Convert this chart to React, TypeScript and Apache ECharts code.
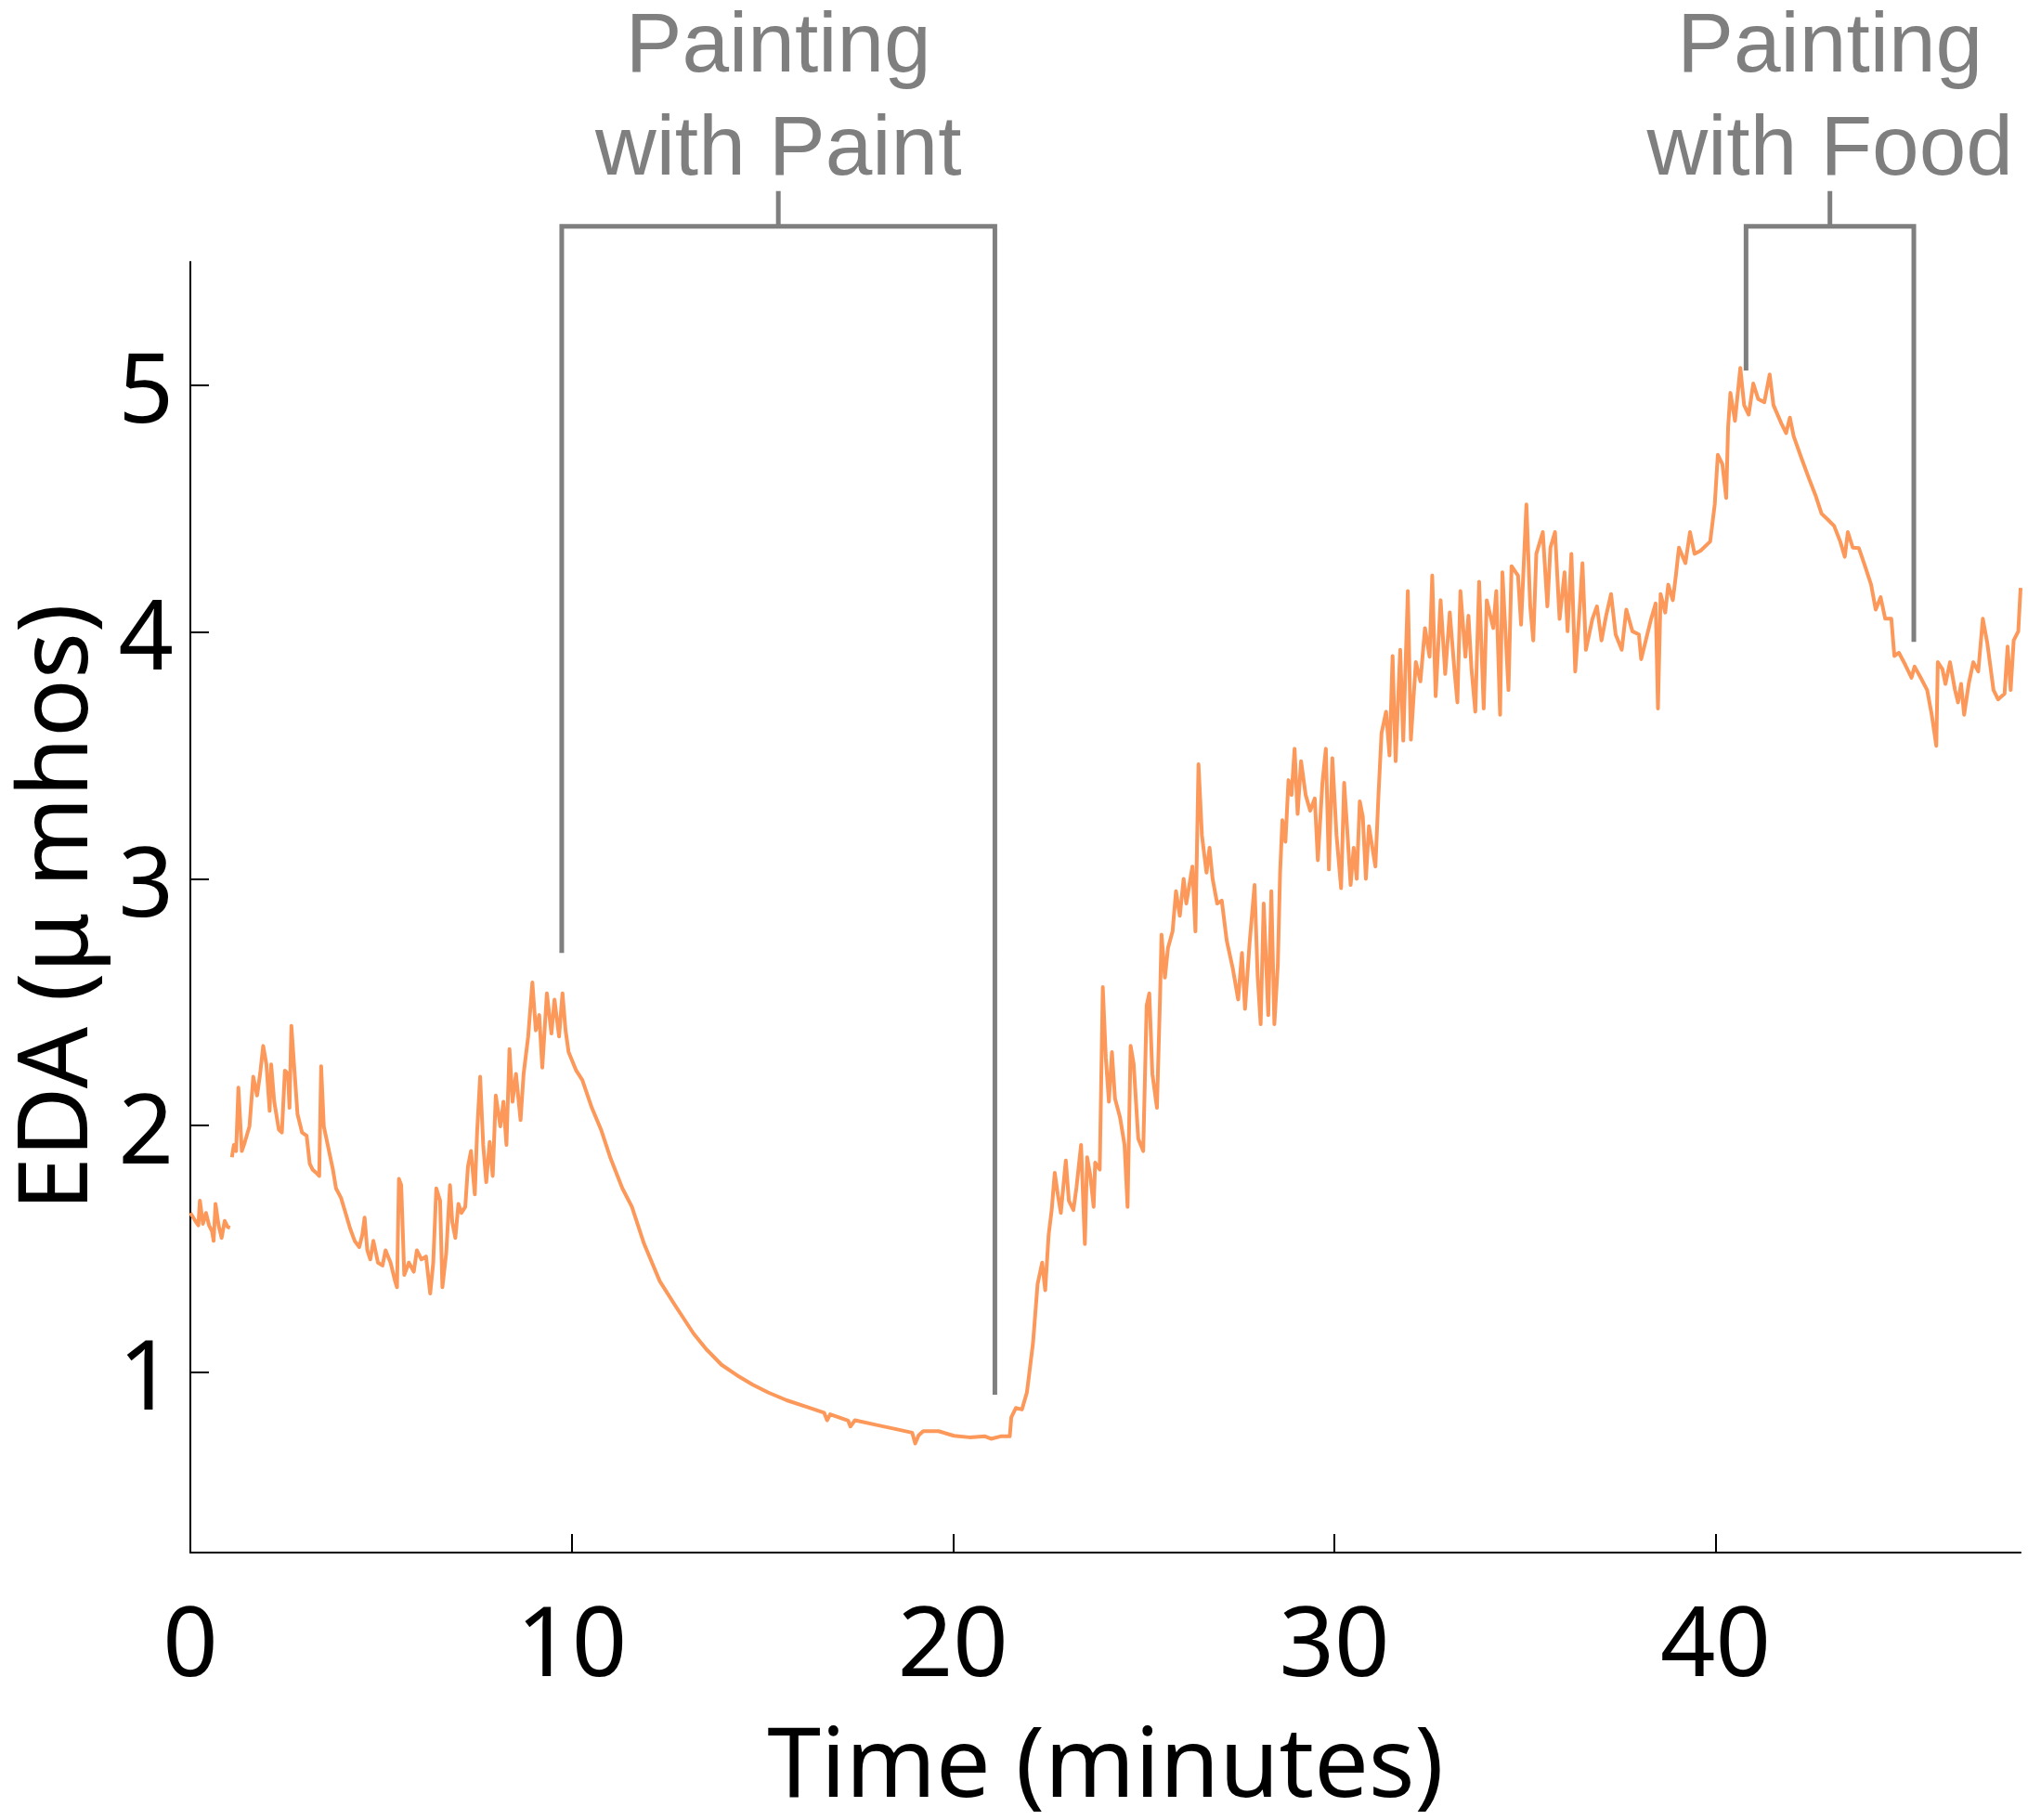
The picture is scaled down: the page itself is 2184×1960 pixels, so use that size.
import React, { useEffect, useRef } from "react";
import * as echarts from "echarts";

// ---- Data ----
// Time in minutes
const timeMin: number[] = [
  0.0, 0.13, 0.21, 0.25, 0.33, 0.41, 0.49, 0.57, 0.61, 0.66, 0.74, 0.82, 0.9, 0.98, 1.04,
  1.06,
  1.09, 1.14, 1.2, 1.26, 1.35, 1.43, 1.55, 1.65, 1.75, 1.83, 1.91, 1.995, 2.08, 2.12, 2.2, 2.32, 2.4,
  2.48, 2.56, 2.6, 2.65, 2.73, 2.81, 2.93, 3.05, 3.13, 3.21, 3.3, 3.38, 3.43, 3.5, 3.62, 3.74, 3.82,
  3.95, 4.07, 4.19, 4.31, 4.43, 4.51, 4.57, 4.64, 4.72, 4.8, 4.92, 5.04, 5.12, 5.25, 5.37, 5.42,
  5.47, 5.53, 5.61, 5.73, 5.86, 5.94, 6.06, 6.18, 6.29, 6.37, 6.45, 6.55, 6.61, 6.71, 6.81, 6.87,
  6.95, 7.03, 7.11, 7.21, 7.28, 7.36, 7.46, 7.52, 7.6, 7.68, 7.76, 7.85, 7.93, 8.01, 8.13, 8.21,
  8.29, 8.37, 8.45, 8.54, 8.66, 8.74, 8.86, 8.97, 9.06, 9.15, 9.23, 9.35, 9.47, 9.55, 9.67, 9.76,
  9.84, 9.92, 10.12, 10.28, 10.53, 10.77, 11.01, 11.33, 11.58, 11.9, 12.31, 12.72, 13.2, 13.53,
  13.93, 14.34, 14.75, 15.15, 15.64, 16.13, 16.62, 16.7, 16.78, 17.25, 17.31, 17.43, 18.0, 18.57,
  18.93, 19.01, 19.1, 19.22, 19.62, 20.03, 20.43, 20.84, 21.0, 21.25, 21.49, 21.53, 21.65, 21.81,
  21.94, 22.1, 22.22, 22.34, 22.42, 22.51, 22.59, 22.67, 22.75, 22.83, 22.96, 23.04, 23.16, 23.24,
  23.36, 23.46, 23.52, 23.6, 23.69, 23.73, 23.85, 23.93, 24.01, 24.09, 24.17, 24.25, 24.38, 24.5,
  24.58, 24.66, 24.74, 24.86, 24.99, 25.08, 25.15, 25.23, 25.35, 25.43, 25.47, 25.56, 25.64, 25.76,
  25.85, 25.95, 26.05, 26.12, 26.2, 26.28, 26.36, 26.44, 26.53, 26.65, 26.73, 26.81, 26.93, 27.05,
  27.18, 27.34, 27.48, 27.58, 27.66, 27.78, 27.91, 27.99, 28.07, 28.15, 28.27, 28.35, 28.43, 28.52,
  28.58, 28.64, 28.72, 28.8, 28.88, 28.96, 29.04, 29.13, 29.25, 29.37, 29.49, 29.57, 29.69, 29.78,
  29.86, 29.95, 30.06, 30.18, 30.26, 30.34, 30.43, 30.51, 30.59, 30.67, 30.75, 30.83, 30.91, 31.08,
  31.16, 31.24, 31.36, 31.45, 31.53, 31.61, 31.73, 31.81, 31.93, 32.01, 32.14, 32.26, 32.38, 32.5,
  32.57, 32.66, 32.79, 32.91, 33.03, 33.15, 33.23, 33.31, 33.44, 33.52, 33.6, 33.7, 33.8, 33.92,
  34.0, 34.17, 34.25, 34.35, 34.41, 34.57, 34.65, 34.82, 34.9, 35.04, 35.14, 35.22, 35.3, 35.47,
  35.59, 35.67, 35.79, 35.91, 36.04, 36.12, 36.22, 36.32, 36.44, 36.51, 36.6, 36.77, 36.89, 37.01,
  37.13, 37.26, 37.38, 37.54, 37.66, 37.82, 37.99, 38.05, 38.19, 38.31, 38.43, 38.49, 38.56, 38.68,
  38.76, 38.88, 38.96, 39.04, 39.21, 39.33, 39.45, 39.61, 39.86, 39.98, 40.06, 40.18, 40.28, 40.33,
  40.39, 40.51, 40.65, 40.75, 40.87, 40.99, 41.12, 41.28, 41.42, 41.52, 41.73, 41.85, 41.95, 42.05,
  42.25, 42.46, 42.62, 42.78, 42.95, 43.11, 43.27, 43.39, 43.47, 43.6, 43.76, 43.92, 44.08, 44.2,
  44.33, 44.45, 44.61, 44.69, 44.81, 44.98, 45.14, 45.22, 45.38, 45.55, 45.67, 45.79, 45.83, 45.95,
  46.03, 46.15, 46.28, 46.36, 46.44, 46.52, 46.64, 46.76, 46.89, 47.01, 47.13, 47.29, 47.41, 47.58,
  47.66, 47.74, 47.82, 47.94, 48.0,
];

// EDA in micro-mhos (null = recording gap)
const edaValues: (number | null)[] = [
  1.646, 1.614, 1.596, 1.696, 1.602, 1.646, 1.596, 1.571, 1.533, 1.683, 1.596, 1.545, 1.614, 1.589, 1.586,
  null,
  1.872, 1.922, 1.897, 2.154, 1.897, 1.934, 1.997, 2.198, 2.122, 2.21, 2.323, 2.248, 2.06, 2.248, 2.097, 1.984, 1.972,
  2.223, 2.21, 2.072, 2.404, 2.223, 2.047, 1.972, 1.959, 1.846, 1.821, 1.809, 1.796, 2.241, 1.997, 1.909, 1.821, 1.746,
  1.708, 1.646, 1.583, 1.533, 1.508, 1.558, 1.627, 1.495, 1.458, 1.533, 1.445, 1.433, 1.495, 1.445, 1.37, 1.345,
  1.784, 1.759, 1.395, 1.445, 1.408, 1.495, 1.458, 1.47, 1.32, 1.445, 1.746, 1.696, 1.345, 1.483, 1.759, 1.608,
  1.545, 1.683, 1.646, 1.671, 1.834, 1.897, 1.721, 1.972, 2.198, 1.922, 1.771, 1.934, 1.796, 2.122, 1.997, 2.097,
  1.922, 2.31, 2.097, 2.21, 2.022, 2.21, 2.361, 2.58, 2.386, 2.448, 2.235, 2.536, 2.373, 2.511, 2.361, 2.536,
  2.386, 2.298, 2.223, 2.185, 2.072, 1.984, 1.872, 1.746, 1.671, 1.521, 1.37, 1.27, 1.157, 1.094,
  1.031, 0.988, 0.95, 0.919, 0.887, 0.862, 0.837, 0.806, 0.83, 0.805, 0.781, 0.806, 0.787, 0.768,
  0.756, 0.712, 0.745, 0.762, 0.762, 0.743, 0.737, 0.741, 0.731, 0.741, 0.741, 0.818, 0.856, 0.85,
  0.919, 1.119, 1.358, 1.445, 1.333, 1.558, 1.658, 1.809, 1.721, 1.646, 1.859, 1.696, 1.658, 1.75,
  1.922, 1.52, 1.872, 1.8, 1.671, 1.85, 1.822, 2.561, 2.273, 2.097, 2.298, 2.11, 2.035, 1.922,
  1.671, 2.323, 2.25, 1.947, 1.897, 2.486, 2.536, 2.21, 2.072, 2.51, 2.774, 2.6, 2.72, 2.787,
  2.95, 2.85, 3.0, 2.9, 2.975, 3.05, 2.787, 3.464, 3.176, 3.025, 3.126, 3.0, 2.9, 2.912,
  2.75, 2.636, 2.511, 2.7, 2.473, 2.74, 2.975, 2.61, 2.411, 2.9, 2.448, 2.95, 2.411, 2.65,
  3.025, 3.238, 3.15, 3.4, 3.34, 3.527, 3.263, 3.477, 3.34, 3.276, 3.326, 3.075, 3.389, 3.527,
  3.038, 3.489, 3.176, 2.962, 3.389, 3.2, 2.975, 3.126, 3.0, 3.314, 3.251, 3.0, 3.213, 3.05,
  3.339, 3.59, 3.677, 3.5, 3.903, 3.477, 3.928, 3.56, 4.166, 3.564, 3.878, 3.8, 4.016, 3.9,
  4.229, 3.74, 4.129, 3.83, 4.08, 3.85, 3.715, 4.166, 3.9, 4.066, 3.85, 3.677, 4.204, 3.69,
  4.129, 4.016, 4.166, 3.665, 4.242, 3.765, 4.267, 4.229, 4.03, 4.517, 4.104, 3.966, 4.317, 4.405,
  4.104, 4.342, 4.405, 4.053, 4.242, 4.003, 4.317, 3.84, 4.104, 4.279, 3.928, 4.053, 4.104, 3.966,
  4.066, 4.154, 3.99, 3.928, 4.091, 4.003, 3.99, 3.89, 3.978, 4.053, 4.116, 3.69, 4.154, 4.079,
  4.192, 4.129, 4.229, 4.342, 4.279, 4.405, 4.317, 4.33, 4.367, 4.518, 4.718, 4.68, 4.543, 4.831,
  4.969, 4.856, 5.07, 4.919, 4.881, 5.007, 4.944, 4.931, 5.044, 4.919, 4.844, 4.806, 4.869, 4.793,
  4.706, 4.618, 4.555, 4.48, 4.455, 4.43, 4.367, 4.305, 4.405, 4.342, 4.34, 4.267, 4.192, 4.091,
  4.141, 4.054, 4.054, 3.903, 3.916, 3.866, 3.815, 3.86, 3.815, 3.765, 3.665, 3.539, 3.878, 3.85,
  3.79, 3.878, 3.765, 3.715, 3.79, 3.665, 3.79, 3.878, 3.84, 4.054, 3.953, 3.765, 3.727, 3.75,
  3.941, 3.765, 3.966, 4.003, 4.179,
];

// Axis ticks
const xTicks = [0, 10, 20, 30, 40];
const yTicks = [1, 2, 3, 4, 5];

// Annotation brackets (data coordinates)
const bracketLabels = ["Painting\nwith Paint", "Painting\nwith Food"];
const bracketLeftX = [9.74, 40.8];
const bracketRightX = [21.1, 45.2];
const bracketLeftBottom = [2.7, 5.06];
const bracketRightBottom = [0.91, 3.96];
const bracketBarY = 5.644;
const bracketStubTopY = 5.787;
const bracketLabelY = 6.18;

const FONT = "'Noto Sans', 'DejaVu Sans', sans-serif";
const ANNOT_FONT = "'Liberation Sans', Arial, sans-serif";
const ORANGE = "#FB985A";
const GREY = "#7F7F7F";

export default function App() {
  const ref = useRef<HTMLDivElement>(null);

  useEffect(() => {
    if (!ref.current) return;
    const chart = echarts.init(ref.current, undefined, { renderer: "svg" });

    const trace = timeMin.map((t, i) => [t, edaValues[i] === null ? "-" : edaValues[i]]);

    const bracketSeries = bracketLabels.map((_, i) => {
      const mid = (bracketLeftX[i] + bracketRightX[i]) / 2;
      return {
        type: "line",
        clip: false,
        silent: true,
        symbol: "none",
        connectNulls: false,
        lineStyle: { color: GREY, width: 5, join: "miter", cap: "butt" },
        data: [
          [bracketLeftX[i], bracketLeftBottom[i]],
          [bracketLeftX[i], bracketBarY],
          [bracketRightX[i], bracketBarY],
          [bracketRightX[i], bracketRightBottom[i]],
          [mid, "-"],
          [mid, bracketBarY],
          [mid, bracketStubTopY],
        ],
        z: 3,
      };
    });

    const labelSeries = {
      type: "scatter",
      clip: false,
      silent: true,
      symbol: "circle",
      symbolSize: 1,
      itemStyle: { color: "rgba(0,0,0,0)" },
      label: {
        show: true,
        position: "inside",
        formatter: (p: any) => p.name,
        fontFamily: ANNOT_FONT,
        fontSize: 91,
        lineHeight: 111,
        color: GREY,
        opacity: 1,
        textBorderWidth: 0,
        align: "center",
        verticalAlign: "middle",
      },
      data: bracketLabels.map((name, i) => ({
        name,
        value: [(bracketLeftX[i] + bracketRightX[i]) / 2, bracketLabelY],
      })),
      z: 4,
    };

    chart.setOption({
      animation: false,
      backgroundColor: "#ffffff",
      grid: {
        left: 205,
        top: 282,
        width: 1971,
        height: 1390,
        containLabel: false,
        outerBoundsMode: "none",
      },
      xAxis: {
        type: "value",
        min: 0,
        max: 48,
        name: "Time (minutes)",
        nameLocation: "middle",
        nameGap: 170,
        nameMoveOverlap: false,
        nameTextStyle: { fontFamily: FONT, fontSize: 104, color: "#000" },
        axisLine: { show: true, onZero: false, lineStyle: { color: "#000", width: 2 } },
        axisTick: {
          show: true,
          inside: true,
          length: 20,
          customValues: xTicks,
          lineStyle: { color: "#000", width: 2 },
        },
        axisLabel: {
          customValues: xTicks,
          fontFamily: FONT,
          fontSize: 104,
          color: "#000",
          margin: 40,
        },
        splitLine: { show: false },
      },
      yAxis: {
        type: "value",
        min: 0.27,
        max: 5.5,
        name: "EDA (μ mhos)",
        nameLocation: "middle",
        nameRotate: 90,
        nameGap: 100,
        nameMoveOverlap: false,
        nameTextStyle: { fontFamily: FONT, fontSize: 104, color: "#000" },
        axisLine: { show: true, onZero: false, lineStyle: { color: "#000", width: 2 } },
        axisTick: {
          show: true,
          inside: true,
          length: 20,
          customValues: yTicks,
          lineStyle: { color: "#000", width: 2 },
        },
        axisLabel: {
          customValues: yTicks,
          fontFamily: FONT,
          fontSize: 104,
          color: "#000",
          margin: 18,
        },
        splitLine: { show: false },
      },
      series: [
        {
          type: "line",
          name: "EDA",
          data: trace,
          symbol: "none",
          showSymbol: false,
          connectNulls: false,
          lineStyle: { color: ORANGE, width: 4, join: "round" },
          itemStyle: { color: ORANGE },
          z: 2,
        },
        ...bracketSeries,
        labelSeries,
      ],
    } as any);

    return () => chart.dispose();
  }, []);

  return (
    <div
      ref={ref}
      style={{ position: "absolute", left: 0, top: 0, width: 2184, height: 1960, background: "#fff" }}
    />
  );
}
